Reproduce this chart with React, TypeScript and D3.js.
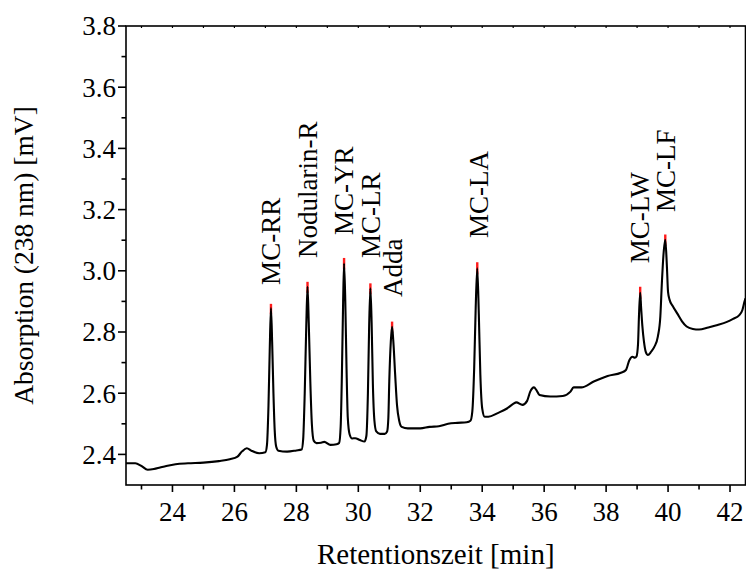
import React from "react";
import * as d3 from "d3";

const times = [22.5,22.8,23.0,23.2,23.4,23.6,23.8,24.1,24.5,25.0,25.5,25.85,26.1,26.25,26.4,26.55,26.8,27.0,27.05,27.1,27.14,27.18,27.22,27.26,27.3,27.35,27.42,27.7,28.0,28.17,28.22,28.27,28.32,28.36,28.4,28.45,28.5,28.56,28.65,28.8,28.9,29.1,29.3,29.38,29.43,29.47,29.51,29.54,29.58,29.62,29.66,29.72,29.8,29.9,30.05,30.2,30.26,30.31,30.35,30.39,30.43,30.47,30.52,30.58,30.7,30.85,30.93,30.97,31.0,31.05,31.09,31.13,31.19,31.25,31.32,31.4,31.6,32.0,32.3,32.6,32.9,33.2,33.5,33.62,33.68,33.74,33.79,33.84,33.89,33.94,34.0,34.08,34.2,34.5,34.8,35.0,35.1,35.3,35.45,35.55,35.67,35.75,35.85,36.2,36.6,36.85,36.95,37.2,37.6,38.05,38.48,38.64,38.75,38.85,38.93,38.98,39.03,39.06,39.1,39.13,39.17,39.22,39.28,39.35,39.45,39.56,39.67,39.75,39.8,39.85,39.91,39.96,40.0,40.05,40.15,40.3,40.45,40.6,40.8,41.0,41.3,41.6,41.9,42.1,42.3,42.4,42.47,42.5];
const absorbance = [2.371,2.371,2.362,2.35,2.352,2.357,2.362,2.368,2.371,2.373,2.378,2.384,2.393,2.41,2.42,2.412,2.404,2.407,2.43,2.56,2.74,2.878,2.76,2.6,2.48,2.425,2.412,2.409,2.413,2.416,2.45,2.6,2.82,2.948,2.83,2.64,2.5,2.445,2.437,2.438,2.441,2.431,2.433,2.437,2.49,2.66,2.9,3.024,2.9,2.68,2.52,2.465,2.452,2.453,2.447,2.442,2.46,2.6,2.82,2.943,2.83,2.63,2.51,2.475,2.467,2.467,2.475,2.52,2.64,2.77,2.817,2.77,2.66,2.56,2.51,2.49,2.485,2.485,2.49,2.492,2.5,2.503,2.505,2.51,2.54,2.68,2.88,3.008,2.86,2.66,2.55,2.523,2.523,2.535,2.55,2.565,2.57,2.562,2.575,2.605,2.619,2.61,2.594,2.589,2.591,2.605,2.619,2.619,2.638,2.656,2.667,2.676,2.708,2.719,2.716,2.72,2.76,2.85,2.928,2.88,2.82,2.77,2.735,2.725,2.735,2.752,2.785,2.85,2.96,3.05,3.101,3.02,2.93,2.905,2.885,2.86,2.835,2.818,2.81,2.808,2.815,2.823,2.833,2.843,2.855,2.872,2.9,2.91];

// red apex highlights of the fitted peaks
const peakTimes = [27.18, 28.36, 29.54, 30.39, 31.09, 33.84, 39.1, 39.91];
const peakTops = [2.878, 2.948, 3.024, 2.943, 2.817, 3.008, 2.928, 3.101];
const peakRedTops = [2.892, 2.964, 3.042, 2.959, 2.834, 3.028, 2.948, 3.119];

const labelNames = ["MC-RR", "Nodularin-R", "MC-YR", "MC-LR", "Adda", "MC-LA", "MC-LW", "MC-LF"];
const labelTimes = [27.47, 28.66, 29.82, 30.69, 31.4, 34.18, 39.4, 40.21];
const labelValues = [2.954, 3.042, 3.117, 3.042, 2.914, 3.107, 3.025, 3.192];

const xMajorTicks = [24, 26, 28, 30, 32, 34, 36, 38, 40, 42];
const xMinorTicks = [23, 25, 27, 29, 31, 33, 35, 37, 39, 41];
const yMajorTicks = [2.4, 2.6, 2.8, 3.0, 3.2, 3.4, 3.6, 3.8];
const yMinorTicks = [2.5, 2.7, 2.9, 3.1, 3.3, 3.5, 3.7];

const xTitle = "Retentionszeit [min]";
const yTitle = "Absorption (238 nm) [mV]";

export default function App() {
  const W = 746, H = 574;
  const left = 126, right = 745.5, top = 26, bottom = 485;
  const x = d3.scaleLinear().domain([22.5, 42.5]).range([left, right]);
  const y = d3.scaleLinear().domain([2.3, 3.8]).range([bottom, top]);
  const pts = times.map((t, i) => [t, absorbance[i]] as [number, number]);
  const line = d3.line<[number, number]>().x(d => x(d[0])).y(d => y(d[1])).curve(d3.curveMonotoneX);
  const font = "'Liberation Serif', 'Times New Roman', serif";
  const fs = 27;
  return (
    <svg width={W} height={H} style={{ position: "absolute", left: 0, top: 0, background: "#fff", fontFamily: font }}>
      <defs>
        <clipPath id="plot"><rect x={left} y={top} width={right - left} height={bottom - top} /></clipPath>
      </defs>
      <g clipPath="url(#plot)">
        {peakTimes.map((t, i) => (
          <line key={i} x1={x(t)} x2={x(t)} y1={y(peakTops[i] - 0.02)} y2={y(peakRedTops[i])} stroke="#ff1a1a" strokeWidth={2.4} />
        ))}
        <path d={line(pts) || ""} fill="none" stroke="#000" strokeWidth={2.1} strokeLinejoin="round" />
      </g>
      <rect x={left} y={top} width={right - left} height={bottom - top} fill="none" stroke="#000" strokeWidth={1.6} />
      {xMajorTicks.map(t => (
        <g key={"xm" + t}>
          <line x1={x(t)} x2={x(t)} y1={bottom} y2={bottom + 7} stroke="#000" strokeWidth={1.6} />
          <line x1={x(t)} x2={x(t)} y1={top} y2={top + 2} stroke="#000" strokeWidth={1.2} />
          <text x={x(t)} y={521} textAnchor="middle" fontSize={fs}>{t}</text>
        </g>
      ))}
      {xMinorTicks.map(t => (
        <g key={"xn" + t}>
          <line x1={x(t)} x2={x(t)} y1={bottom} y2={bottom + 4.5} stroke="#000" strokeWidth={1.6} />
          <line x1={x(t)} x2={x(t)} y1={top} y2={top + 2} stroke="#000" strokeWidth={1.2} />
        </g>
      ))}
      {yMajorTicks.map(v => (
        <g key={"ym" + v}>
          <line x1={left - 8} x2={left} y1={y(v)} y2={y(v)} stroke="#000" strokeWidth={1.6} />
          <text x={left - 10} y={y(v)} dy="0.35em" textAnchor="end" fontSize={fs}>{v.toFixed(1)}</text>
        </g>
      ))}
      {yMinorTicks.map(v => (
        <line key={"yn" + v} x1={left - 4.5} x2={left} y1={y(v)} y2={y(v)} stroke="#000" strokeWidth={1.6} />
      ))}
      {labelNames.map((n, i) => (
        <text key={n} transform={`translate(${x(labelTimes[i])},${y(labelValues[i])}) rotate(-90)`} fontSize={fs}>{n}</text>
      ))}
      <text x={(left + right) / 2} y={564} textAnchor="middle" fontSize={29}>{xTitle}</text>
      <text transform={`translate(33,${(top + bottom) / 2}) rotate(-90)`} textAnchor="middle" fontSize={27.5}>{yTitle}</text>
    </svg>
  );
}
